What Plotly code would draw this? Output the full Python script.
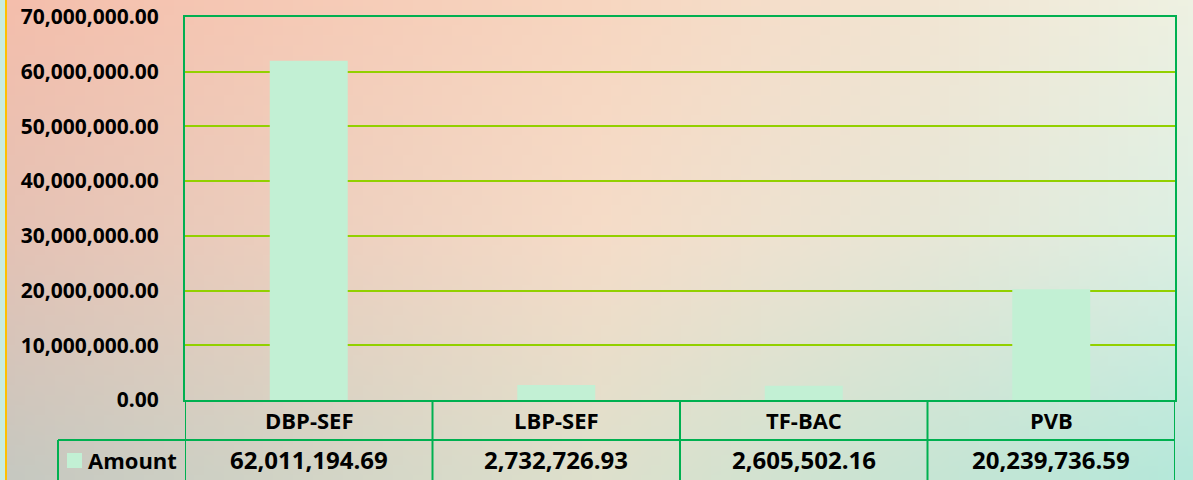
import zlib, struct, base64
import plotly.graph_objects as go

# ---------------- data ----------------
categories = ["DBP-SEF", "LBP-SEF", "TF-BAC", "PVB"]
amount = [62011194.69, 2732726.93, 2605502.16, 20239736.59]
series_name = "Amount"
y_ticks = [0, 10000000, 20000000, 30000000, 40000000, 50000000, 60000000, 70000000]

# ---------------- styling ----------------
W, H = 1193, 480
ML, MR, MT, MB = 185, 18, 17, 80
PW, PH = W - ML - MR, H - MT - MB
BAR = "#C2F0D4"
BORDER = "#00B050"
GRID = "#92D000"
FONT = "Open Sans"


def px_x(px):
    return (px - ML) / PW


def px_y(py):
    return (H - MB - py) / PH


# background gradient image (decorative)
def make_png(w, h, pix):
    raw = b"".join(b"\x00" + bytes(pix[y]) for y in range(h))

    def chunk(t, d):
        c = struct.pack(">I", len(d)) + t + d
        return c + struct.pack(">I", zlib.crc32(t + d) & 0xFFFFFFFF)

    return (b"\x89PNG\r\n\x1a\n" + chunk(b"IHDR", struct.pack(">IIBBBBB", w, h, 8, 2, 0, 0, 0))
            + chunk(b"IDAT", zlib.compress(raw, 9)) + chunk(b"IEND", b""))


def hx(c):
    return [int(c[i:i + 2], 16) for i in (1, 3, 5)]


grid = [[hx("#F4BEAC"), hx("#F7D6C0"), hx("#EEF1E2")],
        [hx("#E4C2B5"), hx("#F5DCC8"), hx("#DCEFE3")],
        [hx("#C6C8C0"), hx("#DEE0CC"), hx("#B5E8DA")]]
gw, gh = 120, 48
pix = []
for j in range(gh):
    v = j / (gh - 1) * 2
    r0 = min(int(v), 1)
    fv = v - r0
    row = []
    for i in range(gw):
        u = i / (gw - 1) * 2
        c0 = min(int(u), 1)
        fu = u - c0
        for k in range(3):
            a = grid[r0][c0][k] * (1 - fu) + grid[r0][c0 + 1][k] * fu
            b = grid[r0 + 1][c0][k] * (1 - fu) + grid[r0 + 1][c0 + 1][k] * fu
            row.append(int(round(a * (1 - fv) + b * fv)))
    pix.append(row)
bg_uri = "data:image/png;base64," + base64.b64encode(make_png(gw, gh, pix)).decode()

fig = go.Figure()
fig.add_trace(go.Bar(x=list(range(len(categories))), y=amount, name=series_name,
                     marker=dict(color=BAR, line=dict(width=0)), showlegend=False,
                     hoverinfo="y"))

shapes = []
# left decorative strip and orange border
shapes.append(dict(type="rect", xref="paper", yref="paper", x0=px_x(0), x1=px_x(5),
                   y0=px_y(480), y1=px_y(0), fillcolor="#C8ECE0", line=dict(width=0), layer="above"))
shapes.append(dict(type="line", xref="paper", yref="paper", x0=px_x(6), x1=px_x(6),
                   y0=px_y(480), y1=px_y(0), line=dict(color="#FFC000", width=2)))
# data table lines
row2_top = px_y(440)
tbl_bot = px_y(481)
shapes.append(dict(type="line", xref="paper", yref="paper", x0=px_x(58), x1=1,
                   y0=row2_top, y1=row2_top, line=dict(color=BORDER, width=2)))
for b in [i - 0.5 for i in range(len(categories) + 1)]:
    shapes.append(dict(type="line", xref="x", yref="paper", x0=b, x1=b, y0=0, y1=tbl_bot,
                       line=dict(color=BORDER, width=2)))
shapes.append(dict(type="line", xref="paper", yref="paper", x0=px_x(58), x1=px_x(58),
                   y0=row2_top, y1=tbl_bot, line=dict(color=BORDER, width=2)))
# legend key
shapes.append(dict(type="rect", xref="paper", yref="paper", x0=px_x(67), x1=px_x(82),
                   y0=px_y(468), y1=px_y(453), fillcolor=BAR, line=dict(width=0)))

annotations = []
for i, (c, v) in enumerate(zip(categories, amount)):
    annotations.append(dict(x=i, y=px_y(420), xref="x", yref="paper", text=c, showarrow=False,
                            xanchor="center", yanchor="middle",
                            font=dict(family=FONT, size=22, color="#000", weight=700)))
    annotations.append(dict(x=i, y=px_y(460), xref="x", yref="paper", text=f"{v:,.2f}", showarrow=False,
                            xanchor="center", yanchor="middle",
                            font=dict(family=FONT, size=24, color="#000", weight=700)))
annotations.append(dict(x=px_x(86), y=px_y(460), xref="paper", yref="paper", text=series_name,
                        showarrow=False, xanchor="left", yanchor="middle",
                        font=dict(family=FONT, size=22, color="#000", weight=700)))

fig.update_layout(
    width=W, height=H, autosize=False,
    margin=dict(l=ML, r=MR, t=MT, b=MB, pad=0, autoexpand=False),
    paper_bgcolor="#EEDCCB", plot_bgcolor="rgba(0,0,0,0)",
    bargap=0.685,
    shapes=shapes, annotations=annotations,
    images=[dict(source=bg_uri, xref="paper", yref="paper", x=px_x(0), y=px_y(0),
                 sizex=W / PW, sizey=H / PH, xanchor="left", yanchor="top",
                 sizing="stretch", layer="below")],
    xaxis=dict(range=[-0.5, len(categories) - 0.5], showticklabels=False, showgrid=False,
               zeroline=False, showline=True, linecolor=BORDER, linewidth=2, mirror=True,
               ticks="", automargin=False),
    yaxis=dict(range=[0, 70000000], tickvals=y_ticks, tickformat=",.2f",
               showgrid=True, gridcolor=GRID, gridwidth=2, zeroline=False,
               showline=True, linecolor=BORDER, linewidth=2, mirror=True,
               ticks="outside", ticklen=20, tickcolor="rgba(0,0,0,0)", automargin=False,
               tickfont=dict(family=FONT, size=21, color="#000", weight=700)),
)

fig.write_html("out.html", config={"displayModeBar": False},
               post_script="document.body.style.margin='0px';document.body.style.overflow='hidden';")
